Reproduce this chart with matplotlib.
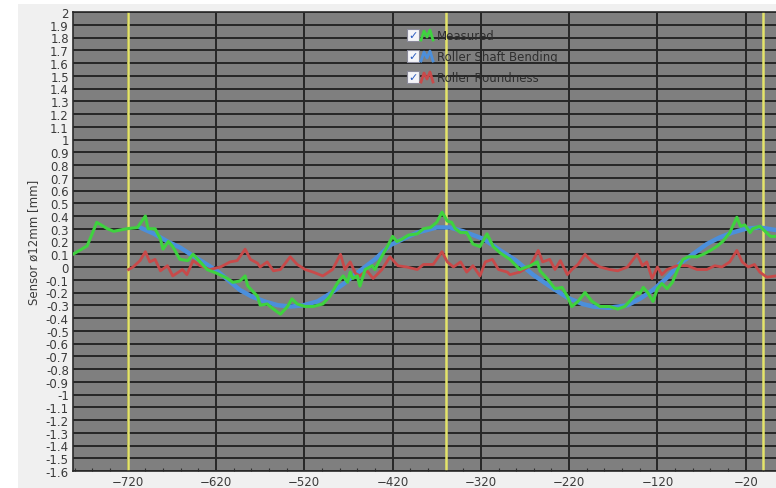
import numpy as np
import matplotlib
matplotlib.use("Agg")
import matplotlib.pyplot as plt
from matplotlib.patches import Rectangle
from matplotlib.lines import Line2D
from matplotlib.ticker import MultipleLocator, FuncFormatter

# ---- data ----
meas_x = [-782, -766, -755, -743, -736, -721, -709, -700, -697, -689, -683, -680, -674, -669,
          -661, -652, -646, -638, -630, -619, -607, -601, -593, -587, -584, -573, -570, -562,
          -555, -547, -539, -534, -528, -519, -510, -499, -491, -482, -476, -471, -468, -465,
          -460, -457, -451, -443, -440, -434, -426, -420, -415, -409, -402, -392, -385, -377,
          -370, -364, -358, -353, -349, -343, -336, -329, -321, -313, -306, -298, -287, -276,
          -264, -256, -253, -245, -236, -228, -222, -217, -210, -202, -194, -185, -174, -165,
          -157, -149, -143, -140, -136, -131, -125, -120, -115, -109, -103, -97, -91, -85,
          -75, -68, -60, -53, -46, -38, -30, -26, -21, -15, -12, -4, 2, 8, 14]
meas_y = [0.10, 0.165, 0.35, 0.30, 0.28, 0.30, 0.31, 0.40, 0.30, 0.30, 0.22, 0.14, 0.20, 0.16,
          0.06, 0.05, 0.10, 0.04, -0.02, -0.05, -0.09, -0.12, -0.11, -0.07, -0.15, -0.23, -0.30, -0.29,
          -0.33, -0.37, -0.31, -0.25, -0.29, -0.31, -0.31, -0.29, -0.23, -0.12, -0.07, -0.12, -0.04, -0.09,
          -0.07, -0.15, -0.02, 0.01, -0.02, 0.06, 0.16, 0.24, 0.20, 0.22, 0.25, 0.26, 0.30, 0.31,
          0.35, 0.43, 0.36, 0.35, 0.30, 0.27, 0.27, 0.18, 0.16, 0.26, 0.16, 0.11, 0.06, -0.02,
          0.01, 0.04, -0.03, -0.09, -0.17, -0.16, -0.23, -0.31, -0.27, -0.20, -0.27, -0.31, -0.31, -0.33,
          -0.31, -0.25, -0.20, -0.21, -0.16, -0.20, -0.27, -0.17, -0.13, -0.17, -0.12, -0.02, 0.06, 0.08,
          0.08, 0.10, 0.13, 0.16, 0.20, 0.27, 0.39, 0.32, 0.33, 0.27, 0.30, 0.32, 0.28, 0.24, 0.24]

bend_x = [-706, -690, -675, -660, -649, -635, -619, -605, -593, -580, -565, -550, -535, -521,
          -505, -491, -475, -457, -440, -423, -405, -392, -370, -355, -340, -317, -298, -280,
          -261, -240, -222, -205, -193, -175, -154, -140, -125, -110, -94, -80, -64, -50,
          -35, -20, -4, 14]
bend_y = [0.31, 0.26, 0.20, 0.15, 0.10, 0.04, -0.03, -0.11, -0.18, -0.23, -0.27, -0.30, -0.31, -0.30,
          -0.27, -0.21, -0.13, -0.03, 0.06, 0.17, 0.23, 0.27, 0.31, 0.31, 0.28, 0.22, 0.13, 0.05,
          -0.06, -0.16, -0.24, -0.29, -0.31, -0.32, -0.30, -0.25, -0.18, -0.09, 0.03, 0.10, 0.18, 0.23,
          0.27, 0.30, 0.31, 0.29]

round_x = [-719, -714, -706, -700, -695, -689, -683, -675, -669, -658, -653, -646, -638, -627,
           -615, -604, -596, -587, -581, -573, -570, -562, -555, -547, -536, -528, -519, -510,
           -499, -488, -479, -474, -468, -462, -457, -449, -442, -432, -423, -414, -404, -392,
           -385, -374, -364, -358, -351, -343, -336, -329, -321, -315, -307, -300, -290, -287,
           -276, -264, -255, -250, -242, -236, -230, -222, -217, -210, -202, -194, -185, -174,
           -165, -154, -143, -137, -132, -126, -120, -115, -109, -98, -86, -75, -64, -55,
           -47, -38, -30, -24, -17, -10, -4, 4, 14]
round_y = [-0.02, 0.00, 0.05, 0.12, 0.04, 0.06, -0.03, 0.01, -0.07, -0.02, -0.06, 0.05, 0.01, -0.02,
           0.00, 0.04, 0.05, 0.14, 0.06, 0.03, 0.00, 0.04, -0.03, -0.02, 0.08, 0.02, -0.02, -0.04,
           -0.07, -0.02, 0.10, -0.02, 0.04, -0.05, -0.07, -0.03, -0.09, -0.02, 0.08, 0.01, 0.00, -0.02,
           0.02, 0.02, 0.12, 0.04, 0.00, 0.04, -0.04, 0.01, -0.07, 0.04, 0.06, -0.02, -0.04, -0.06,
           -0.04, 0.01, 0.13, 0.04, 0.06, -0.02, 0.05, -0.06, -0.02, 0.02, 0.10, 0.04, 0.00, -0.02,
           -0.03, 0.00, 0.10, 0.01, 0.04, -0.09, 0.00, -0.06, -0.02, 0.01, 0.01, -0.02, -0.02, 0.01,
           0.00, 0.04, 0.13, 0.04, 0.00, 0.02, -0.04, -0.08, -0.07]

markers_x = [-720, -360, 0]   # yellow revolution lines
legend_labels = ["Measured", "Roller Shaft Bending", "Roller Roundness"]
legend_colors = ["#3fd23f", "#4b8fdc", "#c84a4a"]

W, H = 776, 489
fig = plt.figure(figsize=(W / 100, H / 100), dpi=100, facecolor="#f0f0f0")

# white strips of the screenshot border
fig.patches.append(Rectangle((0, 0), 18 / W, 1, transform=fig.transFigure,
                             facecolor="white", edgecolor="none", zorder=0))
fig.patches.append(Rectangle((0, 1 - 5 / H), 1, 5 / H, transform=fig.transFigure,
                             facecolor="white", edgecolor="none", zorder=0))

ax = fig.add_axes([73 / W, 17 / H, 708 / W, 459 / H])
ax.set_facecolor("#7f7f7f")
ax.set_xlim(-782, 20)
ax.set_ylim(-1.6, 2.0)

ax.set_yticks(np.round(np.arange(-1.6, 2.001, 0.1), 1))
ax.set_xticks(np.arange(-720, 20, 100))
ax.xaxis.set_minor_locator(MultipleLocator(20))


def fmt(v, pos):
    v = round(v, 1)
    if v == 0:
        return "0"
    return f"{v:g}"


ax.yaxis.set_major_formatter(FuncFormatter(fmt))
ax.grid(True, which="major", color="#262626", linewidth=1.4, zorder=1)
ax.set_axisbelow(True)

ax.tick_params(axis="both", which="major", length=0, labelsize=8.5,
               labelcolor="#3a3a3a", pad=3)
ax.tick_params(axis="x", which="minor", direction="in", length=2.5,
               color="#303030", width=0.8)
for s in ax.spines.values():
    s.set_color("#2a2a2a")
    s.set_linewidth(1.2)

for mx in markers_x:
    ax.axvline(mx, color="#e4e46a", linewidth=1.8, zorder=2)

ax.plot(bend_x, bend_y, color=legend_colors[1], linewidth=3.2, zorder=3)
ax.plot(round_x, round_y, color=legend_colors[2], linewidth=2.0, zorder=4)
ax.plot(meas_x, meas_y, color=legend_colors[0], linewidth=2.2, zorder=5)

ax.set_ylabel("Sensor ø12mm [mm]", fontsize=8.5, color="#3a3a3a", labelpad=4)

# checkbox legend as in the viewer
for i, (lab, col) in enumerate(zip(legend_labels, legend_colors)):
    yc = 36 + 21 * i
    fig.patches.append(Rectangle((407 / W, 1 - (yc + 6) / H), 12 / W, 12 / H,
                                 transform=fig.transFigure, facecolor="#f4f4f8",
                                 edgecolor="#8a8a9a", linewidth=0.8, zorder=6))
    fig.text(413 / W, 1 - yc / H, "✓", color="#2c5cc0", fontsize=8,
             ha="center", va="center", fontweight="bold", zorder=7)
    zx = np.array([421, 424, 427, 430, 433]) / W
    zy = 1 - (yc + np.array([5, -4, 2, -5, 5])) / H
    fig.lines.append(Line2D(zx, zy, transform=fig.transFigure, color=col,
                            linewidth=2.0, zorder=7))
    fig.text(437 / W, 1 - yc / H, lab, color="#2e2e2e", fontsize=8.5,
             ha="left", va="center", zorder=7)

fig.savefig("out.png", dpi=100, facecolor=fig.get_facecolor())
